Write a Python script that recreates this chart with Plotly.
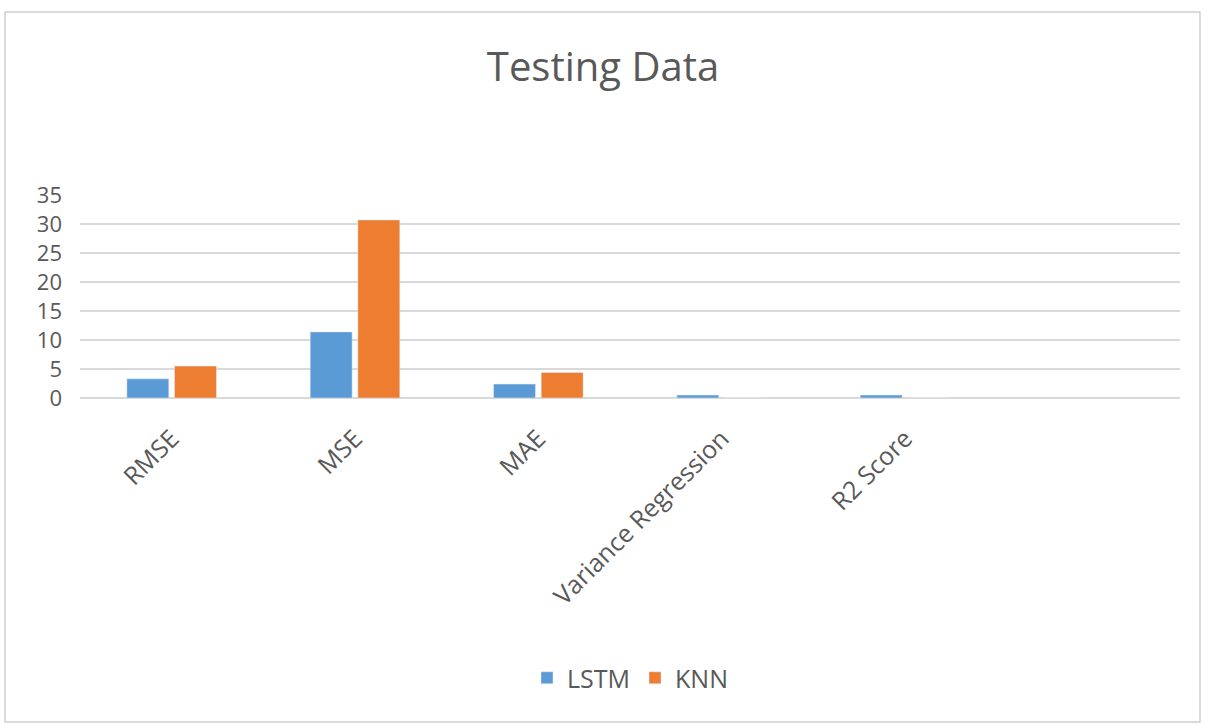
import plotly.graph_objects as go

# Datos
metricas = ['RMSE', 'MSE', 'MAE', 'Variance Regression', 'R2 Score']
lstm = [3.3, 11.4, 2.4, 0.5, 0.5]
knn = [5.5, 30.7, 4.4, 0, 0]
y_ticks = [0, 5, 10, 15, 20, 25, 30, 35]

gris = '#595959'
fuente = 'Open Sans'

fig = go.Figure()
fig.add_trace(go.Bar(x=metricas, y=lstm, name='LSTM', marker_color='#5B9BD5'))
fig.add_trace(go.Bar(x=metricas, y=knn, name='KNN', marker_color='#ED7D31'))

W, H = 1206, 726
ml, mr, mt, mb = 80, 26, 195, 328
pw, ph = W - ml - mr, H - mt - mb

fig.update_layout(
    width=W, height=H,
    margin=dict(l=ml, r=mr, t=mt, b=mb),
    paper_bgcolor='white', plot_bgcolor='white',
    barmode='group', bargap=0.48, bargroupgap=0.12,
    font=dict(family=fuente, color=gris),
    title=dict(text='Testing Data', x=0.5, xanchor='center', y=1 - 67 / H, yanchor='middle',
               font=dict(size=40, color=gris, family=fuente)),
    legend=dict(orientation='h', x=0.5, xanchor='center', y=(mb - (H - 678)) / -ph, yanchor='middle',
                font=dict(size=25, color=gris), itemwidth=30, traceorder='normal'),
    showlegend=True,
)
fig.update_xaxes(type='category', range=[-0.5, 5.5], tickangle=-45, showgrid=False, showline=False,
                 ticks='', tickfont=dict(size=25, color=gris), ticklabelstandoff=20)
fig.update_yaxes(range=[0, 35], tickvals=y_ticks, showgrid=True, gridcolor='#D9D9D9', gridwidth=1.5,
                 zeroline=True, zerolinecolor='#D9D9D9', zerolinewidth=1.5, showline=False, ticks='',
                 tickfont=dict(size=22, color=gris), ticklabelstandoff=17)

# borde exterior del grafico
fig.add_shape(type='rect', xref='paper', yref='paper',
              x0=(5 - ml) / pw, x1=(1200 - ml) / pw,
              y0=(H - mb - 722) / ph, y1=(H - mb - 12) / ph,
              line=dict(color='#D0D0D0', width=1.5), layer='below')

# quitar el margen del body para que la figura empiece en (0, 0)
fig.write_html('out.html', config={'displayModeBar': False},
               post_script="document.body.style.margin='0';document.body.style.overflow='hidden';")
